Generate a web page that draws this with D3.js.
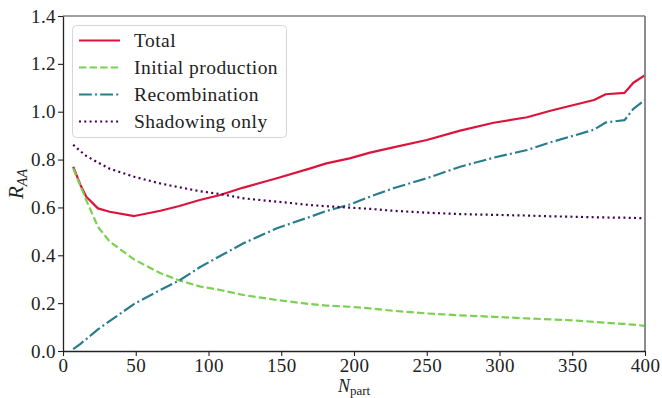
<!DOCTYPE html>
<html><head><meta charset="utf-8">
<script src="https://cdn.jsdelivr.net/npm/d3@7"></script>
<style>body{margin:0;background:#fff}svg{display:block}text{font-family:"Liberation Serif","DejaVu Serif",serif}</style>
</head><body><svg id="c" width="662" height="398"></svg>
<script>
const nPart = [7,12,16,24,32,49,67,80,94,108,124,147,170,181,197,211,227,250,273,296,319,335,351,365,373,386,392,400];
const total = [0.770,0.694,0.645,0.596,0.582,0.564,0.586,0.606,0.631,0.652,0.683,0.722,0.763,0.784,0.805,0.829,0.851,0.882,0.921,0.954,0.977,1.004,1.028,1.049,1.073,1.079,1.121,1.153];
const initial = [0.763,0.690,0.630,0.519,0.458,0.382,0.325,0.295,0.270,0.255,0.234,0.213,0.196,0.190,0.185,0.178,0.168,0.157,0.149,0.143,0.136,0.132,0.128,0.122,0.118,0.113,0.110,0.105];
const recomb = [0.008,0.030,0.050,0.090,0.125,0.197,0.255,0.295,0.350,0.397,0.450,0.513,0.561,0.585,0.612,0.645,0.680,0.722,0.770,0.808,0.840,0.872,0.900,0.925,0.955,0.965,1.012,1.049];
const shadow = [0.862,0.835,0.815,0.788,0.762,0.728,0.700,0.684,0.668,0.656,0.638,0.624,0.610,0.605,0.599,0.594,0.586,0.578,0.572,0.569,0.566,0.563,0.561,0.559,0.558,0.557,0.556,0.555];
const seriesNames = ["Total","Initial production","Recombination","Shadowing only"];
const xTicks = [0,50,100,150,200,250,300,350,400];
const yTicks = [0,0.2,0.4,0.6,0.8,1.0,1.2,1.4];

const series = [
  {name: seriesNames[0], values: total, color: "#dc143c", dash: null},
  {name: seriesNames[1], values: initial, color: "#7ad151", dash: "7.4,3.2"},
  {name: seriesNames[2], values: recomb, color: "#287d8e", dash: "12.8,3.2,2,3.2"},
  {name: seriesNames[3], values: shadow, color: "#440154", dash: "2,3.3"}
];

const W = 662, H = 398, m = {l:63, r:17, t:16, b:47};
const svg = d3.select("#c");
const x = d3.scaleLinear().domain([0,400]).range([m.l, W-m.r]);
const y = d3.scaleLinear().domain([0,1.4]).range([H-m.b, m.t]);

svg.append("defs").append("clipPath").attr("id","cp").append("rect")
  .attr("x", m.l).attr("y", m.t).attr("width", W-m.l-m.r).attr("height", H-m.t-m.b);

const line = d3.line().x((d,i)=>x(nPart[i])).y(d=>y(d));
const g = svg.append("g").attr("clip-path","url(#cp)");
series.forEach(s => {
  g.append("path").attr("d", line(s.values)).attr("fill","none")
    .attr("stroke", s.color).attr("stroke-width", 2.2)
    .attr("stroke-dasharray", s.dash).attr("stroke-linejoin","round");
});

// spines
svg.append("line").attr("x1",m.l).attr("x2",W-m.r).attr("y1",m.t).attr("y2",m.t).attr("stroke","#808080").attr("stroke-width",1.5);
svg.append("line").attr("x1",W-m.r).attr("x2",W-m.r).attr("y1",m.t).attr("y2",H-m.b).attr("stroke","#808080").attr("stroke-width",1.8);

const xAxis = svg.append("g").attr("transform",`translate(0,${H-m.b})`)
  .call(d3.axisBottom(x).tickValues(xTicks).tickFormat(d3.format("d")).tickSize(5).tickSizeOuter(0));
const yAxis = svg.append("g").attr("transform",`translate(${m.l},0)`)
  .call(d3.axisLeft(y).tickValues(yTicks).tickFormat(d3.format(".1f")).tickSize(5).tickSizeOuter(0));
[xAxis,yAxis].forEach(a=>{
  a.select(".domain").attr("stroke","#222").attr("stroke-width",1.3);
  a.selectAll(".tick line").attr("stroke","#222").attr("stroke-width",1.1);
  a.selectAll(".tick text").attr("font-family","Liberation Serif, serif").attr("font-size",19).attr("letter-spacing",0.4).attr("fill","#222");
});
xAxis.selectAll(".tick text").attr("dy",0).attr("y",21);
yAxis.selectAll(".tick text").attr("x",-7);

// axis labels
const yl = svg.append("text").attr("transform","translate(23,184) rotate(-90)").attr("text-anchor","middle").attr("font-size",21).attr("fill","#222");
yl.append("tspan").attr("font-style","italic").text("R");
yl.append("tspan").attr("font-style","italic").attr("font-size",14).attr("dy",4).text("AA");

const xl = svg.append("text").attr("x",354).attr("y",392).attr("text-anchor","middle").attr("font-size",18).attr("fill","#222");
xl.append("tspan").attr("font-style","italic").text("N");
xl.append("tspan").attr("font-size",13).attr("dy",2.5).text("part");

// legend
const lg = svg.append("g");
lg.append("rect").attr("x",72.5).attr("y",25.5).attr("width",214).attr("height",112).attr("rx",4)
  .attr("fill","#fff").attr("fill-opacity",0.8).attr("stroke","#d6d6d6").attr("stroke-width",1);
series.forEach((s,i)=>{
  const yy = 40.5 + i*27;
  lg.append("line").attr("x1",79).attr("x2",120).attr("y1",yy).attr("y2",yy)
    .attr("stroke",s.color).attr("stroke-width",2.2).attr("stroke-dasharray",s.dash);
  lg.append("text").attr("x",134).attr("y",yy).attr("dy","0.35em").attr("font-size",19.5).attr("letter-spacing",0.45).attr("fill","#222").text(s.name);
});
</script></body></html>
